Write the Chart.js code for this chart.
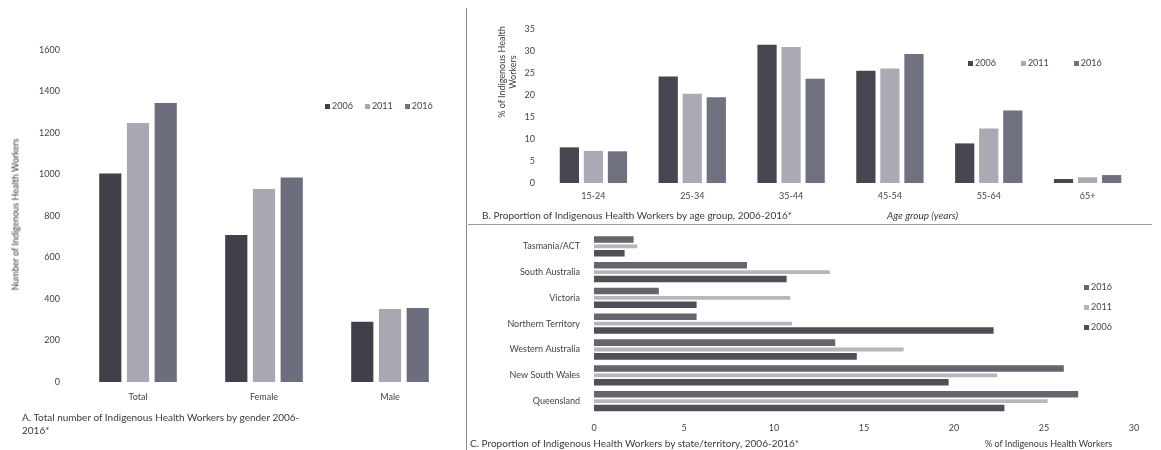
<!DOCTYPE html>
<html>
<head>
<meta charset="utf-8">
<script src="https://cdn.jsdelivr.net/npm/chart.js@4.4.1/dist/chart.umd.min.js"></script>
<style>
  html, body { margin:0; padding:0; background:#fff; }
  body { width:1161px; height:450px; position:relative; overflow:hidden; font-family: Lato, "Open Sans", sans-serif; color:#3a3a3a; }
  canvas { position:absolute; }
  .txt { position:absolute; font-size:10px; line-height:13px; white-space:nowrap; color:#3a3a3a; }
  .leg { position:absolute; font-size:9px; color:#444; white-space:nowrap; }
  .leg span.sw { display:inline-block; width:5px; height:5px; margin-right:2px; vertical-align:middle; }
  .leg span.it { margin-right:12px; }
  #legB span.it { margin-right:25px; }
  .vline { position:absolute; left:466px; top:8px; width:1px; height:442px; background:#8a8a8a; }
  .hline { position:absolute; left:468px; top:224px; width:684px; height:1px; background:#9a9a9a; }
</style>
</head>
<body>
<div class="vline"></div>
<div class="hline"></div>
<canvas id="chartA" width="460" height="450" style="left:0;top:0"></canvas>
<canvas id="chartB" width="695" height="225" style="left:466px;top:0"></canvas>
<canvas id="chartC" width="695" height="236" style="left:466px;top:214px"></canvas>

<div class="txt" style="left:22px;top:411px;">A. Total number of Indigenous Health Workers by gender 2006-<br>2016*</div>
<div class="txt" style="left:482px;top:209px;">B. Proportion of Indigenous Health Workers by age group, 2006-2016*</div>
<div class="txt" style="left:887px;top:209px;font-style:italic;">Age group (years)</div>
<div class="txt" style="left:470px;top:437px;">C. Proportion of Indigenous Health Workers by state/territory, 2006-2016*</div>
<div class="txt" style="left:985px;top:437px;font-size:9px;">% of Indigenous Health Workers</div>
<div class="txt" style="left:-90px;top:208px;font-size:9px;transform:rotate(-90deg);width:210px;text-align:center;">Number of Indigenous Health Workers</div>
<div class="txt" style="left:447px;top:61px;font-size:9px;line-height:11px;transform:rotate(-90deg);width:120px;text-align:center;">% of Indigenous Health<br>Workers</div>

<div id="legA" class="leg" style="left:325px;top:100px;"></div>
<div id="legB" class="leg" style="left:968px;top:57px;"></div>
<div id="legC" class="leg" style="left:1084px;top:277px;line-height:20px;"></div>

<script>
// ---------- Data ----------
const years = ['2006', '2011', '2016'];

const genderCategories = ['Total', 'Female', 'Male'];
const genderCount2006 = [1005, 708, 290];
const genderCount2011 = [1248, 930, 352];
const genderCount2016 = [1345, 985, 357];
const genderTicks = [0, 200, 400, 600, 800, 1000, 1200, 1400, 1600];

const ageGroups = ['15-24', '25-34', '35-44', '45-54', '55-64', '65+'];
const agePct2006 = [8.1, 24.2, 31.4, 25.5, 9.0, 0.9];
const agePct2011 = [7.3, 20.3, 30.9, 26.0, 12.4, 1.3];
const agePct2016 = [7.2, 19.5, 23.7, 29.3, 16.5, 1.8];
const ageTicks = [0, 5, 10, 15, 20, 25, 30, 35];

const states = ['Tasmania/ACT', 'South Australia', 'Victoria', 'Northern Territory', 'Western Australia', 'New South Wales', 'Queensland'];
const statePct2016 = [2.2, 8.5, 3.6, 5.7, 13.4, 26.1, 26.9];
const statePct2011 = [2.4, 13.1, 10.9, 11.0, 17.2, 22.4, 25.2];
const statePct2006 = [1.7, 10.7, 5.7, 22.2, 14.6, 19.7, 22.8];
const stateTicks = [0, 5, 10, 15, 20, 25, 30];

// ---------- Styles ----------
const colA = ['#3f404a', '#a8a8b2', '#6c6d7d'];
const colB = ['#45464f', '#aaaab4', '#6f7080'];
const colC = { '2016': '#65656e', '2011': '#b6b6bc', '2006': '#4f4f57' };
const tickFont = { family: 'Lato, "Open Sans", sans-serif', size: 9 };
const tickColor = '#444';
const plain = v => String(v);

function fixW(w) { return s => { s.width = w; }; }
function fixH(h) { return s => { s.height = h; }; }

function buildLegend(el, labels, colors, vertical) {
  el.innerHTML = labels.map((l, i) =>
    `<span class="it"><span class="sw" style="background:${colors[i]}"></span>${l}</span>`
  ).join(vertical ? '<br>' : '');
}

const common = {
  responsive: false,
  animation: false,
  devicePixelRatio: 1,
  plugins: { legend: { display: false }, tooltip: { enabled: false } }
};

// ---------- Chart A ----------
new Chart(document.getElementById('chartA'), {
  type: 'bar',
  data: {
    labels: genderCategories,
    datasets: [
      { label: years[0], data: genderCount2006, backgroundColor: colA[0] },
      { label: years[1], data: genderCount2011, backgroundColor: colA[1] },
      { label: years[2], data: genderCount2016, backgroundColor: colA[2] }
    ]
  },
  options: {
    ...common,
    layout: { padding: { top: 50, right: 7, bottom: 42, left: 0 } },
    datasets: { bar: { categoryPercentage: 0.66, barPercentage: 0.8 } },
    scales: {
      x: {
        grid: { display: false, drawTicks: false }, border: { display: false },
        ticks: { font: tickFont, color: tickColor, padding: 10 },
        afterFit: fixH(26)
      },
      y: {
        min: 0, max: 1600,
        grid: { display: false, drawTicks: false }, border: { display: false },
        afterBuildTicks: s => { s.ticks = genderTicks.map(v => ({ value: v })); },
        ticks: { font: tickFont, color: tickColor, padding: 15, callback: plain },
        afterFit: fixW(75)
      }
    }
  }
});
buildLegend(document.getElementById('legA'), years, colA, false);

// ---------- Chart B ----------
new Chart(document.getElementById('chartB'), {
  type: 'bar',
  data: {
    labels: ageGroups,
    datasets: [
      { label: years[0], data: agePct2006, backgroundColor: colB[0] },
      { label: years[1], data: agePct2011, backgroundColor: colB[1] },
      { label: years[2], data: agePct2016, backgroundColor: colB[2] }
    ]
  },
  options: {
    ...common,
    layout: { padding: { top: 29, right: 24, bottom: 20, left: 0 } },
    datasets: { bar: { categoryPercentage: 0.73, barPercentage: 0.8 } },
    scales: {
      x: {
        grid: { display: false, drawTicks: false }, border: { display: false },
        ticks: { font: tickFont, color: tickColor, padding: 8 },
        afterFit: fixH(22)
      },
      y: {
        min: 0, max: 35,
        grid: { display: false, drawTicks: false }, border: { display: false },
        afterBuildTicks: s => { s.ticks = ageTicks.map(v => ({ value: v })); },
        ticks: { font: tickFont, color: tickColor, padding: 9, callback: plain },
        afterFit: fixW(78)
      }
    }
  }
});
buildLegend(document.getElementById('legB'), years, colB, false);

// ---------- Chart C ----------
const yearsC = ['2016', '2011', '2006'];
new Chart(document.getElementById('chartC'), {
  type: 'bar',
  data: {
    labels: states,
    datasets: [
      { label: '2016', data: statePct2016, backgroundColor: colC['2016'], barPercentage: 0.95 },
      { label: '2011', data: statePct2011, backgroundColor: colC['2011'], barPercentage: 0.55 },
      { label: '2006', data: statePct2006, backgroundColor: colC['2006'], barPercentage: 0.95 }
    ]
  },
  options: {
    ...common,
    indexAxis: 'y',
    layout: { padding: { top: 6, right: 27, bottom: 14, left: 0 } },
    datasets: { bar: { categoryPercentage: 0.8 } },
    scales: {
      x: {
        min: 0, max: 30,
        grid: { display: false, drawTicks: false }, border: { display: false },
        afterBuildTicks: s => { s.ticks = stateTicks.map(v => ({ value: v })); },
        ticks: { font: tickFont, color: tickColor, padding: 9, callback: plain },
        afterFit: fixH(22)
      },
      y: {
        grid: { display: false, drawTicks: false }, border: { display: false },
        ticks: { font: tickFont, color: tickColor, padding: 14 },
        afterFit: fixW(128)
      }
    }
  }
});
buildLegend(document.getElementById('legC'), yearsC, yearsC.map(y => colC[y]), true);
</script>
</body>
</html>
